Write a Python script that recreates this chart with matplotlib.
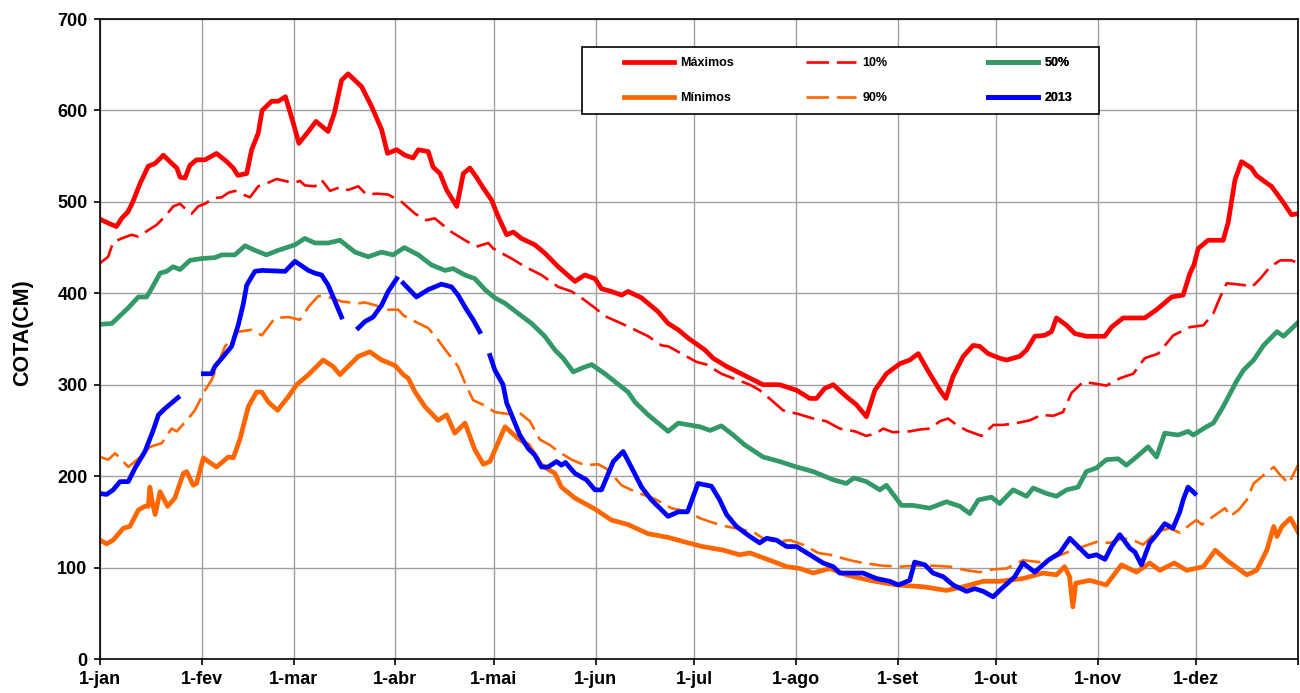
import numpy as np
import matplotlib.pyplot as plt
from matplotlib.patches import Rectangle

plt.rcParams['font.family'] = ['Liberation Sans', 'DejaVu Sans']
plt.rcParams['font.weight'] = 'bold'

nan = np.nan

# eixo x: dia do ano
month_days = [0, 31, 59, 90, 120, 151, 181, 212, 243, 273, 304, 334, 365]
month_labels = ['1-jan', '1-fev', '1-mar', '1-abr', '1-mai', '1-jun', '1-jul',
                '1-ago', '1-set', '1-out', '1-nov', '1-dez', '']

# Maximos
max_days = [0, 3, 5, 6.6, 8.5, 10, 12.2, 14.7, 16.8, 19.3, 21.3, 23.4, 24.4, 25.9, 27.4,
            29.4, 32, 35.5, 38.6, 40.6, 42, 44.7, 46.2, 48.2, 49.4, 52.3, 54.3, 56.5, 58.9,
            60.6, 63.5, 65.8, 69.5, 71.4, 73.6, 75.6, 79.7, 82.8, 85.8, 87.6, 90.4, 92.9,
            95.4, 97, 100, 101.5, 103.6, 105.6, 108.7, 110.7, 112.7, 114.7, 116.8, 119.3,
            121.3, 123.9, 125.9, 128.4, 132.5, 135.5, 139.6, 144.7, 147.7, 150.8, 152.8,
            155.8, 158.9, 160.9, 165, 170, 173.1, 176.2, 179.2, 184.3, 186.8, 190.9, 197,
            202, 207.1, 212.2, 216.3, 218.3, 220.8, 223.4, 227.4, 230.5, 233.5, 236.1,
            239.6, 243.7, 246.7, 249.3, 252.8, 255.9, 257.7, 259.9, 263, 266, 268, 270.6,
            274.1, 276.2, 280.2, 282.3, 284.8, 287.8, 289.9, 291.4, 294.5, 297, 300.5,
            306.1, 308.2, 311.7, 318.3, 321.9, 326.5, 330, 332.1, 333.3, 334.6, 337.6,
            342.2, 343.7, 345.8, 347.8, 350.8, 352.3, 354.9, 356.9, 360.4, 363, 365]
max_vals = [481, 476, 473, 482, 489, 500, 520, 539, 542, 551, 544, 537, 527, 526, 540,
            546, 546, 553, 544, 537, 529, 531, 557, 575, 600, 610, 610, 615, 586,
            564, 577, 588, 577, 597, 633, 640, 626, 604, 579, 553, 557, 551,
            548, 557, 555, 538, 531, 513, 495, 531, 537, 527, 515, 502,
            484, 464, 467, 460, 453, 444, 429, 413, 420, 416, 405,
            402, 398, 402, 395, 380, 367, 360, 351, 338, 329, 320, 309,
            300, 300, 294, 285, 285, 296, 300, 287, 278, 265, 294,
            312, 323, 327, 334, 312, 294, 285, 309, 331, 343, 342, 334,
            329, 327, 331, 338, 353, 354, 358, 373, 365, 356, 353,
            353, 363, 373, 373, 382, 396, 398, 422, 431, 449, 458,
            458, 477, 524, 544, 537, 529, 522, 517, 500, 486, 487]

# 10%
p10_days = [0, 2.5, 4, 6.6, 9.6, 11.7, 14.7, 17.3, 19.8, 22.3, 24.4, 26.4, 27.9, 29.9, 32,
            34.5, 37.1, 39.1, 41.1, 43.6, 45.7, 48.2, 51.3, 53.8, 57.4, 59.4, 60.9, 62.4,
            65.5, 67.5, 70.1, 73.1, 75.6, 78.7, 81.2, 84.3, 87.8, 91.9, 96, 99.5, 102, 104,
            107.1, 111.2, 114.7, 118.3, 119.8, 122.3, 125.4, 129.5, 134.5, 139.6, 143.7,
            146.7, 150.8, 153.8, 158.9, 163, 167, 171.1, 173.1, 177.2, 181.7, 184.8, 189.3,
            192.9, 198, 201, 204.6, 208.1, 212.7, 217.3, 221.3, 225.4, 230, 233.5, 236.6,
            238.6, 241.6, 246.7, 249.8, 252.8, 255.9, 258.4, 261, 264, 268.6, 272.2, 275.1,
            279.2, 283.3, 286.8, 290.4, 293.4, 296, 299.5, 303.6, 306.6, 310.7, 314.8, 318.3,
            322.4, 327, 332.1, 336.2, 339.2, 341.3, 343.3, 348.4, 351, 353.5, 356.5, 359.6,
            363, 365]
p10_vals = [433, 440, 456, 460, 464, 462, 469, 475, 484, 495, 498, 491, 487, 495, 498,
            504, 505, 510, 512, 508, 505, 517, 521, 525, 522, 521, 523, 518,
            517, 524, 512, 516, 513, 517, 508, 509, 508, 500, 487, 480, 482, 476,
            467, 458, 451, 455, 449, 444, 438, 429, 420, 407, 402,
            395, 384, 375, 367, 360, 353, 343, 342, 334, 325, 322, 312,
            307, 300, 294, 283, 272, 268, 263, 260, 252, 249, 244, 247,
            252, 248, 249, 251, 252, 260, 263, 256, 250, 244, 256, 256,
            258, 261, 267, 266, 270, 291, 303, 301, 299, 307, 312, 329,
            334, 354, 363, 365, 378, 396, 411, 409, 407, 416, 429, 436,
            436, 433]

# 50%
p50_days = [0, 3.6, 8.6, 11.7, 14.2, 15.7, 18.3, 20.3, 22.3, 24.4, 27.4, 31, 35, 37.1, 41.1,
            44.2, 47.2, 50.7, 54.3, 59.4, 62.4, 65.5, 69.5, 73.1, 77.7, 81.7, 85.8, 89.3,
            92.7, 97, 101, 105.1, 107.6, 111.2, 114.2, 117.3, 120.3, 123.4, 127.4, 131.5,
            135.5, 138.6, 141.1, 144.2, 146.7, 149.8, 153.8, 160.9, 163, 167, 173.1, 176.2,
            182.8, 185.9, 189.3, 192.9, 196.5, 202, 207.1, 212.2, 217.3, 223.4, 227.4, 229.7,
            233.5, 237.6, 239.6, 244.2, 247.7, 252.8, 257.9, 262, 265, 267.6, 271.6, 274.1,
            278.2, 282.3, 284.3, 288.4, 291.4, 294.5, 298, 300.5, 303.6, 306.6, 310.2, 312.7,
            315.8, 319.3, 321.9, 324.4, 328.5, 331.5, 333.1, 337.1, 339.2, 342.2, 346.3,
            348.4, 351.5, 354.5, 358.6, 360.6, 365]
p50_vals = [366, 367, 384, 396, 396, 405, 422, 424, 429, 426, 436, 438, 439, 442, 442,
            452, 447, 442, 447, 453, 460, 455, 455, 458, 445, 440, 445, 442,
            450, 442, 431, 425, 427, 420, 416, 404, 395, 389, 378, 367,
            353, 338, 329, 314, 318, 322, 312, 292, 281, 267, 249, 258,
            254, 250, 255, 245, 234, 221, 216, 210, 205, 196, 192, 198,
            194, 185, 190, 168, 168, 165, 172, 167, 159, 174, 177, 170,
            185, 178, 187, 181, 178, 185, 188, 205, 209, 218, 219, 212,
            221, 232, 221, 247, 245, 249, 245, 254, 258, 276, 304,
            316, 327, 343, 358, 353, 368]

# Minimos
min_days = [0, 2, 4, 7.1, 9.1, 11.7, 13.7, 14.7, 15.2, 15.9, 16.8, 18.3, 20.6, 22.8, 25.4,
            26.4, 28.4, 29.4, 31.5, 33, 35.5, 39.1, 40.6, 42.6, 45.2, 47.7, 49.3, 51.3, 54.1,
            57.4, 59.9, 63.5, 68, 71, 73.1, 75.6, 78.7, 82.2, 85.8, 89.9, 92.4, 93.9, 96, 99,
            103, 105.6, 108.1, 111.2, 114.2, 116.8, 118.8, 123.4, 127.4, 130.5, 134.5, 138.6,
            140.6, 144.7, 150.8, 155.8, 160.9, 167, 173.1, 179.2, 183.6, 189.9, 194.9, 198,
            204.1, 209.2, 213.2, 217.3, 222.4, 227.4, 234.5, 242.7, 250.8, 257.9, 263, 269.1,
            274.1, 281.2, 287.3, 291.4, 293.9, 295.4, 296.4, 297.3, 301.6, 306.6, 311.2,
            315.8, 319.8, 322.9, 327.3, 331.1, 336.2, 339.8, 343.3, 349.4, 352.4, 355.5,
            357.6, 358.6, 360.1, 362.7, 365]
min_vals = [130, 126, 130, 143, 145, 163, 167, 167, 188, 172, 158, 183, 167, 176, 203,
            205, 190, 192, 220, 216, 210, 221, 220, 240, 276, 292, 292, 281, 272,
            287, 300, 311, 327, 320, 311, 320, 331, 336, 327, 321, 311, 307, 292, 276,
            261, 267, 247, 258, 229, 213, 216, 254, 241, 234, 212, 203,
            188, 176, 164, 152, 147, 137, 133, 127, 123, 119, 114, 116,
            108, 101, 99, 94, 99, 92, 86, 81, 79, 75, 79, 85,
            85, 88, 94, 92, 101, 90, 57, 83, 86, 81, 103,
            95, 105, 97, 105, 97, 101, 119, 108, 92, 97, 119,
            145, 134, 145, 154, 139]

# 90%
p90_days = [0, 2.5, 4.6, 6.6, 8.6, 11.7, 15.2, 18.8, 21.8, 23.4, 26.9, 28.9, 32, 34, 38.1,
            42.1, 46.2, 49.3, 53.3, 57.4, 60.9, 63.5, 66.5, 69.5, 73.6, 78.7, 80.7, 83.8,
            87.3, 90.9, 92.4, 96, 100, 103, 106.1, 109.1, 111.2, 113.7, 116.8, 120.3, 124.4,
            127.9, 131, 134, 137.1, 139.6, 143.7, 147.7, 151.8, 154.8, 158.9, 163, 169.1,
            174.1, 179.2, 182.8, 186.8, 190.9, 199, 202, 206.1, 210.2, 214.2, 218.8, 222.4,
            228.5, 232.5, 238.6, 243.7, 248.8, 253.8, 258.9, 264, 268, 272.1, 276.2, 281.2,
            286.3, 291.4, 296.4, 299.5, 303.6, 307.6, 311.7, 314.8, 317.8, 321.9, 325.9, 329,
            332.1, 334.1, 335.7, 339.2, 342.8, 344.3, 346.9, 349.4, 351.5, 354.5, 357.6,
            359.6, 362.2, 365]
p90_vals = [221, 218, 225, 218, 210, 219, 232, 236, 252, 249, 263, 272, 294, 305, 342,
            358, 360, 354, 373, 374, 371, 385, 397, 396, 391, 389, 390, 387,
            382, 382, 376, 369, 362, 349, 334, 320, 302, 283, 278, 270, 268,
            269, 260, 240, 234, 227, 218, 212, 213, 207, 190, 183, 175,
            165, 161, 154, 149, 145, 139, 132, 128, 130, 125, 116, 114,
            108, 105, 102, 101, 102, 102, 101, 97, 95, 98, 99, 108,
            106, 112, 119, 123, 128, 127, 132, 130, 125, 139, 143, 138,
            147, 152, 147, 156, 165, 156, 163, 174, 192, 201, 210,
            201, 192, 212]

# 2013 (nan = falha nos dados)
y2013_days = [0, 2, 4, 6.1, 8.6, 10.7, 13.7, 16.2, 17.8, 19.8, 21.8, 23.8, 27,
              31.5, 34, 35, 37.6, 40.1, 42.1, 43.7, 44.7, 47.2, 49.3, 56.4, 59.4, 63.5,
              65.5, 67.5, 69.5, 73.6, 76,
              78.7, 80.7, 83.2, 85.8, 87.8, 90.4, 91.4,
              92.4, 96.4, 100, 104, 107.1, 109.1, 111.7, 113.7, 115.7, 117,
              118.8, 120.3, 122.8, 123.9, 125.4, 127.9, 130.5, 132.5, 134.5, 136.5, 139.1,
              140.6, 141.8, 144.7, 148.2, 150.8, 152.8, 156.4, 159.4, 162, 165, 168, 173.1,
              176.2, 179, 182.2, 186.3, 188.8, 190.9, 193.9, 198, 201, 203.1, 206.1, 209.2,
              212.2, 216.3, 220.3, 223.4, 225.4, 232.5, 236.6, 240.6, 243.2, 246.7, 248.2,
              251.3, 253.8, 256.9, 259.9, 264, 266.5, 269.1, 272.1, 274.7, 278.7, 281.2,
              284.8, 288.9, 292.4, 295.5, 298, 301.1, 303.6, 306.2, 308.2, 310.7, 313.8,
              315.3, 317.3, 319.8, 321.9, 324.4, 326.9, 329, 330, 331.5, 333.6]
y2013_vals = [181, 180, 185, 194, 194, 209, 227, 250, 267, 274, 280, 286, nan,
              312, 312, 320, 331, 342, 365, 389, 409, 424, 425, 424, 435, 425,
              422, 420, 409, 374, nan,
              362, 369, 374, 387, 402, 416, nan,
              411, 396, 404, 410, 407, 398, 382, 371, 358, nan,
              332, 316, 300, 280, 267, 245, 230, 223, 210, 210, 216,
              212, 215, 203, 196, 185, 185, 216, 227, 209, 188, 174, 156,
              161, 161, 192, 189, 174, 158, 145, 134, 127, 132, 130, 123,
              123, 114, 105, 101, 94, 94, 88, 85, 81, 86, 106,
              103, 94, 90, 81, 74, 77, 74, 68, 77, 90, 105,
              95, 108, 116, 132, 123, 112, 114, 109, 123, 136, 121,
              117, 103, 127, 136, 148, 143, 161, 174, 188, 181]

red = '#FF0000'
orange = '#FF6600'
green = '#339966'
blue = '#0000FF'
lw_solid = 3.4
lw_dash = 1.9
dash = (8.5, 3)

fig = plt.figure(figsize=(13, 6.93), dpi=100)
ax = fig.add_axes([100 / 1300, 34 / 693, 1198 / 1300, 640 / 693])

l_max, = ax.plot(max_days, max_vals, color=red, lw=lw_solid, label='Máximos')
l_p10, = ax.plot(p10_days, p10_vals, color=red, lw=lw_dash, dashes=dash, label='10%')
l_p50, = ax.plot(p50_days, p50_vals, color=green, lw=lw_solid, label='50%')
l_min, = ax.plot(min_days, min_vals, color=orange, lw=lw_solid, label='Mínimos')
l_p90, = ax.plot(p90_days, p90_vals, color=orange, lw=lw_dash, dashes=dash, label='90%')
l_2013, = ax.plot(y2013_days, y2013_vals, color=blue, lw=lw_solid, label='2013')

ax.set_xlim(0, 365)
ax.set_ylim(0, 700)
ax.set_xticks(month_days)
ax.set_xticklabels(month_labels)
ax.set_yticks(range(0, 701, 100))
ax.grid(True, color='#A0A0A0', lw=1.0)
ax.set_axisbelow(True)
ax.tick_params(direction='out', length=4, width=1.2, labelsize=13, pad=5)
for s in ax.spines.values():
    s.set_color('black')
    s.set_linewidth(1.2)
ax.set_ylabel('COTA(CM)', fontsize=15.5, fontweight='bold', labelpad=14)
ax.yaxis.set_label_coords(-0.0555, 0.51)

# caixa da legenda
ax.add_patch(Rectangle((0.4023, 0.8516), 0.4316, 0.1047, transform=ax.transAxes,
                       facecolor='white', edgecolor='black', lw=1.2, zorder=4.5))

leg_opts = dict(loc='center left', frameon=False, borderpad=0, fontsize=9,
                handlelength=4.0, handletextpad=0.5, labelspacing=1.85)
cols = [([l_max, l_min], 0.4324), ([l_p10, l_p90], 0.5843), ([l_p50, l_2013], 0.7362)]
for handles, x0 in cols:
    leg = ax.legend(handles=handles, bbox_to_anchor=(x0, 0.9039), **leg_opts)
    leg.set_zorder(5)
    ax.add_artist(leg)

fig.savefig('out.png', dpi=100)
